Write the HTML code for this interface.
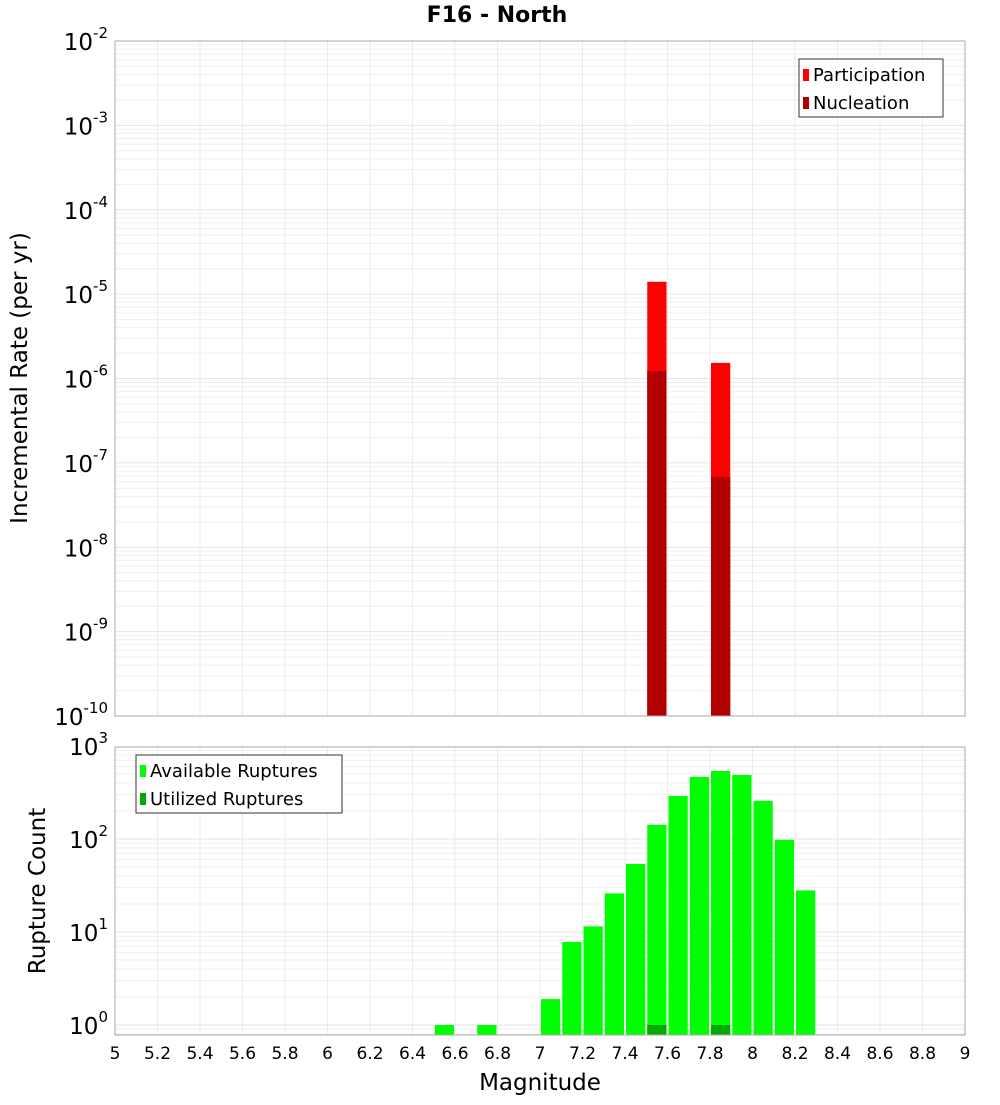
<!DOCTYPE html>
<html><head><meta charset="utf-8"><style>
body{margin:0;background:#fff;font-family:"Liberation Sans","DejaVu Sans",sans-serif}
</style></head><body>
<svg id="c" width="1000" height="1100" xmlns="http://www.w3.org/2000/svg" font-family="DejaVu Sans, Liberation Sans, sans-serif">
<text x="497" y="22" text-anchor="middle" font-size="22" font-weight="bold">F16 - North</text>
<g id="topg"></g>
<g id="botg"></g>
<text transform="translate(27,378) rotate(-90)" text-anchor="middle" font-size="23">Incremental Rate (per yr)</text>
<text transform="translate(45,891) rotate(-90)" text-anchor="middle" font-size="23">Rupture Count</text>
<text x="540" y="1090" text-anchor="middle" font-size="23">Magnitude</text>
</svg>
<script>
const partMags=[7.55,7.85];
const partVals=[1.4e-5,1.53e-6];
const nuclMags=[7.55,7.85];
const nuclVals=[1.23e-6,6.8e-8];
const availMags=[6.55,6.75,7.05,7.15,7.25,7.35,7.45,7.55,7.65,7.75,7.85,7.95,8.05,8.15,8.25];
const availVals=[1,1,1.9,7.8,11.5,26,54,142,290,464,540,488,257,98,28];
const utilMags=[7.55,7.85];
const utilVals=[1,1];
const xTicks=["5","5.2","5.4","5.6","5.8","6","6.2","6.4","6.6","6.8","7","7.2","7.4","7.6","7.8","8","8.2","8.4","8.6","8.8","9"];
const topExps=[-10,-9,-8,-7,-6,-5,-4,-3,-2];
const botExps=[0,1,2,3];

const NS="http://www.w3.org/2000/svg";
const X0=115,X1=965;
const x=m=>X0+(m-5)/4*(X1-X0);
const T0=41,T1=716;
const yT=v=>T1-(Math.log10(v)+10)/8*(T1-T0);
const B0=747,B1=1035,BD=93,B3=746;
const yB=v=>B3+(3-Math.log10(v))*BD;
function el(t,a,p,name){const e=document.createElementNS(NS,t);for(const k in a)e.setAttribute(k,a[k]);


p.appendChild(e);return e;}
const gTop=document.getElementById('topg'),gBot=document.getElementById('botg');
function grid(g,y0,y1,yf,lo,hi){
 for(let e=lo;e<hi;e++)for(let k=1;k<10;k++){const y=yf(k*Math.pow(10,e));if(y<y0-0.5||y>y1+0.5)continue;
  el('line',{x1:X0,x2:X1,y1:y,y2:y,stroke:k==1?'#e4e4e4':'#efefef','stroke-width':1},g,'h-grid-line');}
 for(let i=0;i<=20;i++){const xx=x(5+i*0.2);el('line',{x1:xx,x2:xx,y1:y0,y2:y1,stroke:'#ebebeb'},g,'v-grid-line');}
}
grid(gTop,T0,T1,yT,-10,-1);
grid(gBot,B0,B1,yB,-1,3);
const bw=(X1-X0)/40;
function bars(g,mags,vals,yf,base,color,name){
 mags.forEach((m,i)=>{const yy=yf(vals[i]);
  el('rect',{x:x(m)-bw/2+1,y:yy,width:bw-2,height:base-yy,fill:color},g,name);});
}
bars(gTop,partMags,partVals,yT,T1,'#ff0000','participation-bar');
bars(gTop,nuclMags,nuclVals,yT,T1,'#b00000','nucleation-bar');
bars(gBot,availMags,availVals,yB,B1,'#00ff00','available-bar');
bars(gBot,utilMags,utilVals,yB,B1,'#00aa00','utilized-bar');
el('rect',{x:X0,y:T0,width:X1-X0,height:T1-T0,fill:'none',stroke:'#aaa'},gTop,'top-plot-frame');
el('rect',{x:X0,y:B0,width:X1-X0,height:B1-B0,fill:'none',stroke:'#aaa'},gBot,'bottom-plot-frame');
function ylab(g,yy,e,name){const t=el('text',{x:108,y:yy+9,'text-anchor':'end','font-size':23},g,name);
 t.innerHTML='10<tspan dy="-12" font-size="15">'+e+'</tspan>';}
topExps.forEach(e=>ylab(gTop,yT(Math.pow(10,e)),e,'top-y-tick-label'));
botExps.forEach(e=>ylab(gBot,yB(Math.pow(10,e)),e,'bottom-y-tick-label'));
xTicks.forEach(s=>{const t=el('text',{x:x(+s),y:1059,'text-anchor':'middle','font-size':17},gBot,'x-tick-label');t.textContent=s;});
function legend(g,lx,ly,w,items,name){
 el('rect',{x:lx,y:ly,width:w,height:58,fill:'#fff',stroke:'#333'},g,name);
 items.forEach((it,i)=>{el('rect',{x:lx+4,y:ly+10+i*28,width:6,height:12,fill:it[1]},g,'legend-swatch');
  const t=el('text',{x:lx+14,y:ly+22+i*28,'font-size':18},g,'legend-entry');t.textContent=it[0];});
}
legend(gTop,799,59,144,[['Participation','#ff0000'],['Nucleation','#b00000']],'top-legend');
legend(gBot,136,755,206,[['Available Ruptures','#00ff00'],['Utilized Ruptures','#00aa00']],'bottom-legend');
</script>
</body></html>
